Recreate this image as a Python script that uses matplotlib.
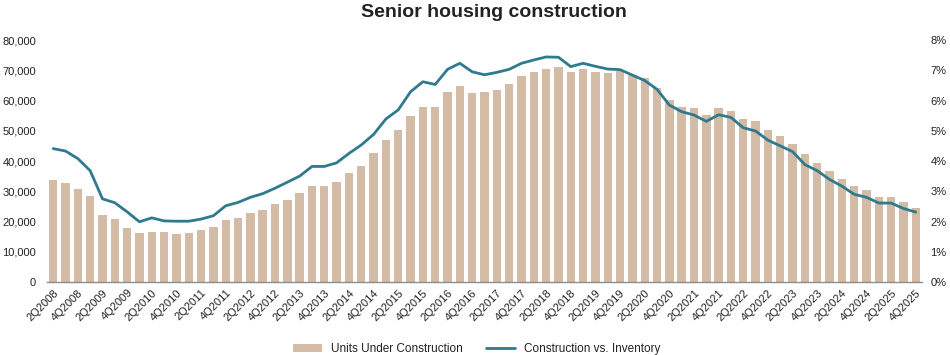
import matplotlib
matplotlib.use("Agg")
import matplotlib.pyplot as plt
from matplotlib.ticker import FuncFormatter, MultipleLocator

plt.rcParams["font.family"] = ["Liberation Sans", "DejaVu Sans"]

# quarters 2Q2008 .. 4Q2025
quarters = [f"{q}Q{y}" for y in range(2008, 2026) for q in range(1, 5)][1:]

units = [33600, 32700, 30800, 28300, 22000, 20800, 17900, 16200, 16600, 16500,
         16000, 16100, 17200, 18100, 20400, 21100, 22900, 23700, 25800, 27200,
         29300, 31700, 31800, 33100, 35900, 38300, 42500, 46800, 50100, 55000,
         58000, 58000, 62700, 64700, 62400, 62700, 63500, 65500, 68000, 69300,
         70400, 71000, 69400, 70300, 69500, 69200, 69700, 68400, 67400, 64200,
         60100, 57700, 57400, 55200, 57500, 56400, 53800, 53100, 50100, 48200,
         45500, 42200, 39300, 36600, 34000, 31700, 30300, 28000, 28000, 26300,
         24600]

ratio_pct = [4.41, 4.33, 4.08, 3.68, 2.75, 2.62, 2.32, 1.99, 2.12, 2.02,
             2.01, 2.01, 2.08, 2.19, 2.52, 2.63, 2.80, 2.92, 3.10, 3.30,
             3.50, 3.82, 3.82, 3.94, 4.25, 4.53, 4.88, 5.39, 5.69, 6.29,
             6.62, 6.53, 7.03, 7.23, 6.95, 6.85, 6.93, 7.03, 7.23, 7.34,
             7.44, 7.43, 7.12, 7.23, 7.13, 7.04, 7.02, 6.84, 6.66, 6.37,
             5.85, 5.63, 5.52, 5.31, 5.53, 5.44, 5.10, 4.99, 4.69, 4.50,
             4.31, 3.88, 3.68, 3.39, 3.17, 2.90, 2.80, 2.61, 2.61, 2.43,
             2.31]

bar_color = "#D3BBA6"
line_color = "#2F7A8D"
text_color = "#222222"

x = list(range(len(quarters)))

fig = plt.figure(figsize=(9.5, 3.55), dpi=100)
ax = fig.add_axes([0.0495, 0.2056, 0.921, 0.6817])
ax2 = ax.twinx()

bars = ax.bar(x, units, width=0.68, color=bar_color, label="Units Under Construction", zorder=2)
line, = ax2.plot(x, [v / 100 for v in ratio_pct], color=line_color, lw=2.0,
                 solid_joinstyle="round", solid_capstyle="round",
                 label="Construction vs. Inventory")

ax.set_xlim(-0.5, len(quarters) - 0.5)
ax.set_ylim(0, 80000)
ax2.set_ylim(0, 0.08)
ax.yaxis.set_major_locator(MultipleLocator(10000))
ax2.yaxis.set_major_locator(MultipleLocator(0.01))
ax.yaxis.set_major_formatter(FuncFormatter(lambda v, p: f"{v:,.0f}"))
ax2.yaxis.set_major_formatter(FuncFormatter(lambda v, p: f"{v * 100:.0f}%"))

ax.set_xticks(x[::2])
ax.set_xticklabels(quarters[::2], rotation=45, ha="right", rotation_mode="anchor")

for a in (ax, ax2):
    for s in ("top", "left", "right", "bottom"):
        a.spines[s].set_visible(False)
    a.tick_params(length=0, labelsize=8, colors=text_color)
ax.spines["bottom"].set_visible(True)
ax.spines["bottom"].set_color("#8C8C8C")
ax.spines["bottom"].set_linewidth(1.0)
ax.tick_params(axis="y", pad=8)
ax.tick_params(axis="x", pad=4)
ax2.tick_params(axis="y", pad=6)

fig.text(0.52, 0.99, "Senior housing construction", fontsize=14, fontweight="bold",
         color=text_color, ha="center", va="top")

fig.legend(handles=[bars, line], loc="lower center", bbox_to_anchor=(0.502, -0.03),
           ncol=2, frameon=False, fontsize=8.5, handlelength=2.4, columnspacing=2.0,
           labelcolor=text_color)

fig.savefig("out.png", dpi=100)
plt.close(fig)
